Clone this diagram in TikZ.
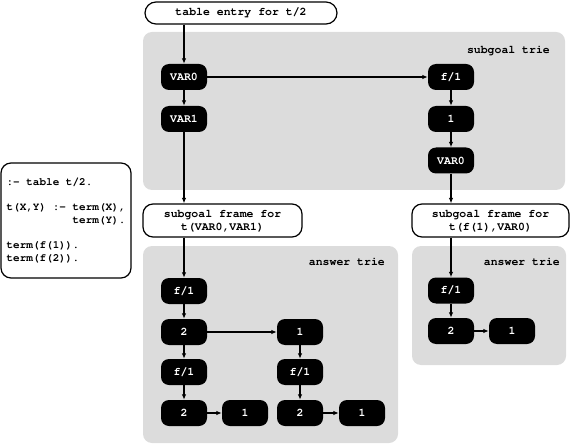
\documentclass[tikz,border=0pt]{standalone}
\usepackage[T1]{fontenc}
\usepackage{courier}
\usetikzlibrary{arrows.meta}
\definecolor{triegray}{RGB}{220,220,220}
\begin{document}
\begin{tikzpicture}[x=1pt,y=-1pt,
  every node/.style={font=\ttfamily\bfseries\fontsize{11.5}{13}\selectfont},
  tn/.style={fill=black, text=white, rounded corners=8pt, minimum width=46pt, minimum height=26pt, inner sep=0pt},
  framebox/.style={draw, line width=1.2pt, rounded corners=10pt, fill=white, align=center, inner sep=0pt},
  panel/.style={fill=triegray, rounded corners=9pt},
  lbl/.style={inner sep=0pt},
  arr/.style={-{Latex[length=5.5pt,width=4.5pt]}, line width=1.2pt}]
\useasboundingbox (0,0) rectangle (572,446);
% panels
\fill[panel] (143,32) rectangle (565,190);
\fill[panel] (143,246) rectangle (398,443);
\fill[panel] (412,246) rectangle (566,365);
\node[lbl, anchor=east] (lblST) at (550,50) {subgoal trie};
\node[lbl, anchor=east] (lblA1) at (385,262) {answer trie};
\node[lbl, anchor=east] (lblA2) at (560,262) {answer trie};
% code box
\node[draw, line width=1.2pt, rounded corners=10pt, minimum width=130pt, minimum height=115pt,
      inner xsep=4pt, align=left, font=\ttfamily\bfseries\fontsize{11}{12.5}\selectfont] (code) at (66,220.5)
  {:- table t/2.\\[13pt]
   t(X,Y) :- term(X),\\
   \phantom{t(X,Y) :- }term(Y).\\[13pt]
   term(f(1)).\\
   term(f(2)).};
% top entry
\node[framebox, rounded corners=11pt, minimum width=192pt, minimum height=22pt] (entry) at (241,13) {table entry for t/2};
% subgoal trie
\node[tn] (s0) at (184,77) {VAR0};
\node[tn] (s1) at (184,119) {VAR1};
\node[tn] (f1) at (451,77) {f/1};
\node[tn] (one) at (451,119) {1};
\node[tn] (v0b) at (451,160.5) {VAR0};
% frames
\node[framebox, minimum width=159pt, minimum height=33pt] (fr1) at (222.5,220.5) {subgoal frame for\\t(VAR0,VAR1)};
\node[framebox, minimum width=157pt, minimum height=33pt] (fr2) at (490.5,220.5) {subgoal frame for\\t(f(1),VAR0)};
% left answer trie
\node[tn] (a1) at (184,291) {f/1};
\node[tn] (a2) at (184,332) {2};
\node[tn] (a3) at (300,332) {1};
\node[tn] (a4) at (184,372) {f/1};
\node[tn] (a5) at (300,372) {f/1};
\node[tn] (a6) at (184,413) {2};
\node[tn] (a7) at (245,413) {1};
\node[tn] (a8) at (300,413) {2};
\node[tn] (a9) at (362,413) {1};
% right answer trie
\node[tn] (b1) at (451,290.5) {f/1};
\node[tn] (b2) at (451,331) {2};
\node[tn] (b3) at (512,331) {1};
% connectors
\draw[arr] (entry.south -| s0) -- (s0);
\draw[arr] (s0) -- (s1);
\draw[arr] (s0) -- (f1);
\draw[arr] (f1) -- (one);
\draw[arr] (one) -- (v0b);
\draw[arr] (s1) -- (s1 |- fr1.north);
\draw[arr] (v0b) -- (v0b |- fr2.north);
\draw[arr] (fr1.south -| a1) -- (a1);
\draw[arr] (fr2.south -| b1) -- (b1);
\draw[arr] (a1) -- (a2);
\draw[arr] (a2) -- (a3);
\draw[arr] (a2) -- (a4);
\draw[arr] (a3) -- (a5);
\draw[arr] (a4) -- (a6);
\draw[arr] (a5) -- (a8);
\draw[arr] (a6) -- (a7);
\draw[arr] (a8) -- (a9);
\draw[arr] (b1) -- (b2);
\draw[arr] (b2) -- (b3);
\end{tikzpicture}
\end{document}
